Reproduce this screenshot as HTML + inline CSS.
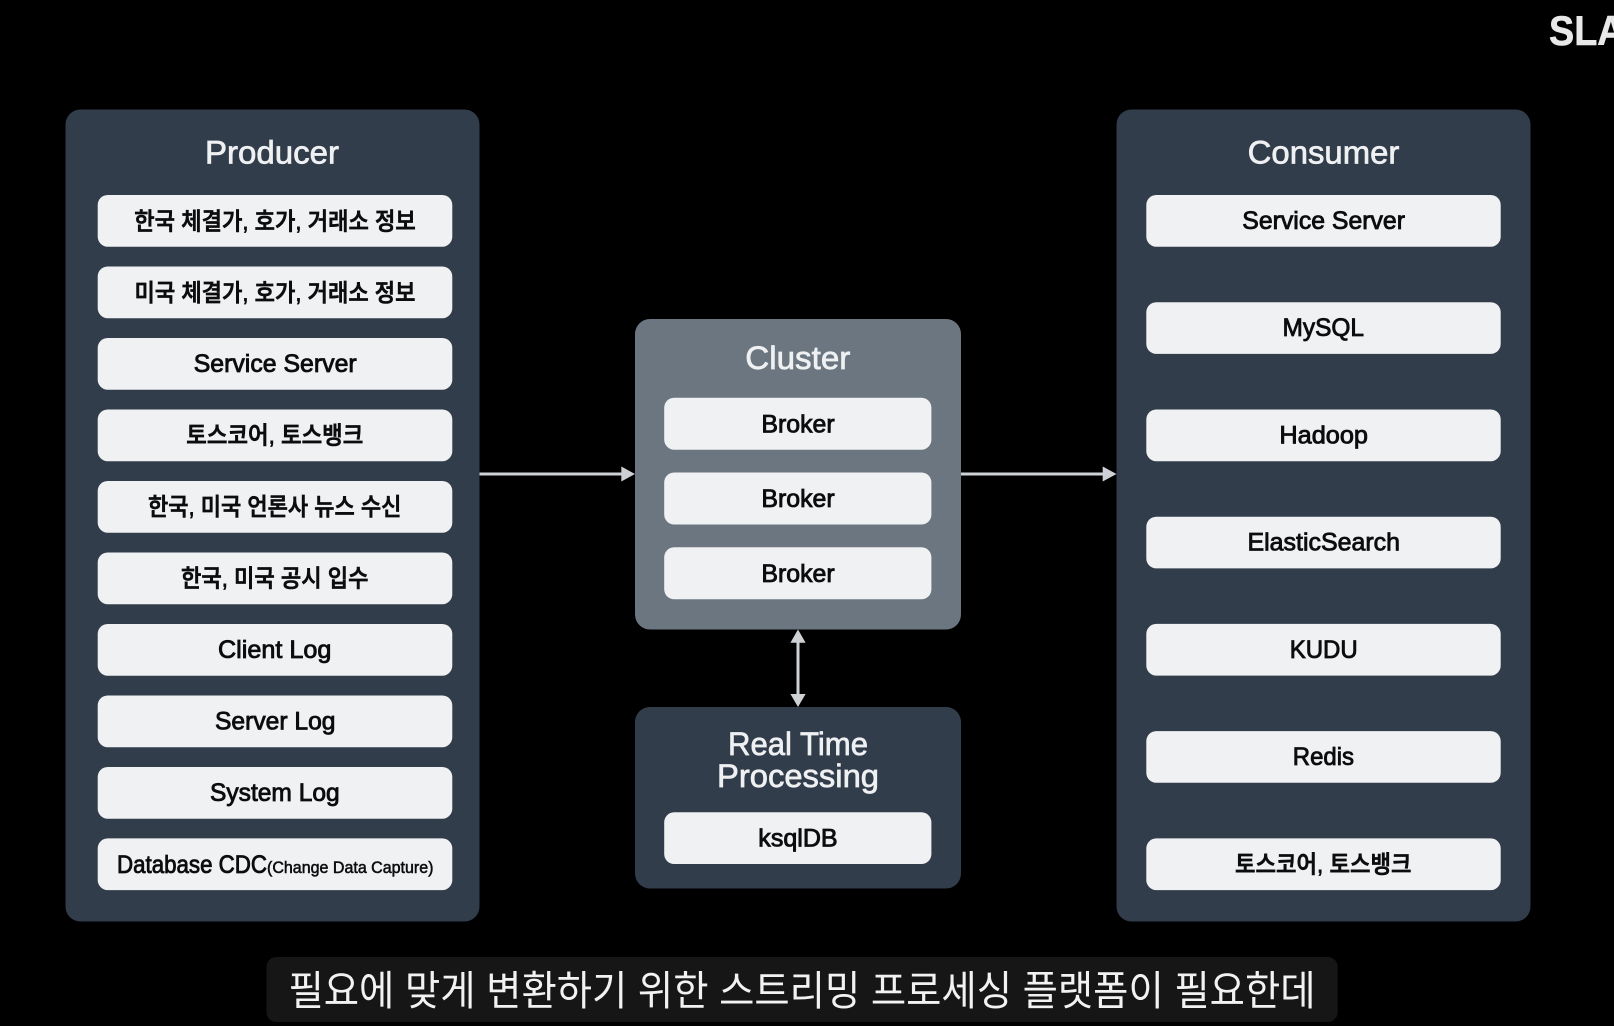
<!DOCTYPE html>
<html lang="ko"><head><meta charset="utf-8"><title>Streaming Platform Diagram</title>
<style>
html,body{margin:0;padding:0;background:#000;width:1614px;height:1026px;overflow:hidden}
svg{display:block;position:absolute;left:0;top:0}
text{font-family:"Liberation Sans","Noto Sans CJK KR",sans-serif}
.p{fill:#323d4b}.b{fill:#f0f1f3}
.t{fill:#eef0f2;font-size:32px;stroke:#eef0f2;stroke-width:.7px}
.i{fill:#0c0d0f;font-size:25px;stroke:#0c0d0f;stroke-width:.85px}
.k{fill:#0c0d0f;font-size:24px;font-weight:500;stroke:#0c0d0f;stroke-width:.75px}
.a{stroke:#cdd0d4;stroke-width:3;fill:none}.h{fill:#cdd0d4}
</style></head><body>
<svg width="1614" height="1026" viewBox="0 0 1614 1026" xmlns="http://www.w3.org/2000/svg">
<rect width="1614" height="1026" fill="#000"/>
<text x="1549" y="45" font-size="42" font-weight="700" fill="#e8e8e8" stroke="#e8e8e8" stroke-width=".6" textLength="128" lengthAdjust="spacingAndGlyphs">SLASH</text>

<rect class="p" x="65.5" y="109.5" width="414" height="812" rx="15"/>
<rect class="p" x="1116.5" y="109.5" width="414" height="812" rx="15"/>
<rect x="635" y="319" width="326" height="310.5" rx="15" fill="#6b7681"/>
<rect class="p" x="635" y="707" width="326" height="181.5" rx="15"/>

<text class="t" x="205" y="163.5" textLength="134" lengthAdjust="spacingAndGlyphs">Producer</text>
<text class="t" x="1247.7" y="163.5" textLength="151.6" lengthAdjust="spacingAndGlyphs">Consumer</text>
<text class="t" x="745.3" y="369" textLength="105" lengthAdjust="spacingAndGlyphs">Cluster</text>
<text class="t" x="728" y="755" textLength="140" lengthAdjust="spacingAndGlyphs">Real Time</text>
<text class="t" x="717" y="787" textLength="162" lengthAdjust="spacingAndGlyphs">Processing</text>

<g class="b">
<rect x="97.7" y="195" width="354.6" height="51.7" rx="10"/>
<rect x="97.7" y="266.5" width="354.6" height="51.7" rx="10"/>
<rect x="97.7" y="338" width="354.6" height="51.7" rx="10"/>
<rect x="97.7" y="409.5" width="354.6" height="51.7" rx="10"/>
<rect x="97.7" y="481" width="354.6" height="51.7" rx="10"/>
<rect x="97.7" y="552.5" width="354.6" height="51.7" rx="10"/>
<rect x="97.7" y="624" width="354.6" height="51.7" rx="10"/>
<rect x="97.7" y="695.5" width="354.6" height="51.7" rx="10"/>
<rect x="97.7" y="767" width="354.6" height="51.7" rx="10"/>
<rect x="97.7" y="838.4" width="354.6" height="51.7" rx="10"/>

<rect x="1146.3" y="195" width="354.4" height="51.7" rx="10"/>
<rect x="1146.3" y="302.2" width="354.4" height="51.7" rx="10"/>
<rect x="1146.3" y="409.5" width="354.4" height="51.7" rx="10"/>
<rect x="1146.3" y="516.7" width="354.4" height="51.7" rx="10"/>
<rect x="1146.3" y="623.9" width="354.4" height="51.7" rx="10"/>
<rect x="1146.3" y="731.1" width="354.4" height="51.7" rx="10"/>
<rect x="1146.3" y="838.4" width="354.4" height="51.7" rx="10"/>

<rect x="664.2" y="397.7" width="267.2" height="52" rx="10"/>
<rect x="664.2" y="472.5" width="267.2" height="52" rx="10"/>
<rect x="664.2" y="547.3" width="267.2" height="52" rx="10"/>
<rect x="664.2" y="812.3" width="267.2" height="51.7" rx="10"/>
</g>

<text class="k" x="134.3" y="229.5" textLength="281.5" lengthAdjust="spacingAndGlyphs">한국 체결가, 호가, 거래소 정보</text>
<text class="k" x="134.5" y="301" textLength="281" lengthAdjust="spacingAndGlyphs">미국 체결가, 호가, 거래소 정보</text>
<text class="i" x="193.7" y="372.2" textLength="163" lengthAdjust="spacingAndGlyphs">Service Server</text>
<text class="k" x="186.3" y="443.7" textLength="177" lengthAdjust="spacingAndGlyphs">토스코어, 토스뱅크</text>
<text class="k" x="148" y="515" textLength="253.4" lengthAdjust="spacingAndGlyphs">한국, 미국 언론사 뉴스 수신</text>
<text class="k" x="181" y="586.5" textLength="187.5" lengthAdjust="spacingAndGlyphs">한국, 미국 공시 입수</text>
<text class="i" x="218" y="658" textLength="113.4" lengthAdjust="spacingAndGlyphs">Client Log</text>
<text class="i" x="215" y="729.5" textLength="120.5" lengthAdjust="spacingAndGlyphs">Server Log</text>
<text class="i" x="210" y="801" textLength="129.7" lengthAdjust="spacingAndGlyphs">System Log</text>
<text class="i" x="117" y="873" textLength="150" lengthAdjust="spacingAndGlyphs">Database CDC</text>
<text class="i" x="267" y="873" style="font-size:17px;stroke-width:.55px" textLength="166.5" lengthAdjust="spacingAndGlyphs">(Change Data Capture)</text>

<text class="i" x="1242.3" y="229" textLength="162.7" lengthAdjust="spacingAndGlyphs">Service Server</text>
<text class="i" x="1282.5" y="336" textLength="81.5" lengthAdjust="spacingAndGlyphs">MySQL</text>
<text class="i" x="1279.4" y="443.5" textLength="88.6" lengthAdjust="spacingAndGlyphs">Hadoop</text>
<text class="i" x="1247.5" y="550.7" textLength="152.5" lengthAdjust="spacingAndGlyphs">ElasticSearch</text>
<text class="i" x="1289.7" y="658" textLength="68" lengthAdjust="spacingAndGlyphs">KUDU</text>
<text class="i" x="1292.8" y="765" textLength="61.2" lengthAdjust="spacingAndGlyphs">Redis</text>
<text class="k" x="1235" y="872.7" textLength="176.5" lengthAdjust="spacingAndGlyphs">토스코어, 토스뱅크</text>

<text class="i" x="761.4" y="432.3" textLength="73.3" lengthAdjust="spacingAndGlyphs">Broker</text>
<text class="i" x="761.4" y="507" textLength="73.3" lengthAdjust="spacingAndGlyphs">Broker</text>
<text class="i" x="761.4" y="582" textLength="73.3" lengthAdjust="spacingAndGlyphs">Broker</text>
<text class="i" x="758.3" y="846.5" textLength="79.3" lengthAdjust="spacingAndGlyphs">ksqlDB</text>

<line class="a" x1="479.5" y1="474" x2="622" y2="474"/>
<polygon class="h" points="621.3,466.5 635,474 621.3,481.5"/>
<line class="a" x1="961" y1="474" x2="1103" y2="474"/>
<polygon class="h" points="1102.7,466.5 1116.5,474 1102.7,481.5"/>
<line class="a" x1="798" y1="642" x2="798" y2="695"/>
<polygon class="h" points="798,629.5 805.6,642.7 790.4,642.7"/>
<polygon class="h" points="798,707 805.6,694 790.4,694"/>

<rect x="266.5" y="957" width="1071.2" height="65" rx="10" fill="#161616"/>
<text x="288.5" y="1005" font-size="41" fill="#f2f2f2" textLength="1027" lengthAdjust="spacingAndGlyphs">필요에 맞게 변환하기 위한 스트리밍 프로세싱 플랫폼이 필요한데</text>
</svg>
</body></html>
